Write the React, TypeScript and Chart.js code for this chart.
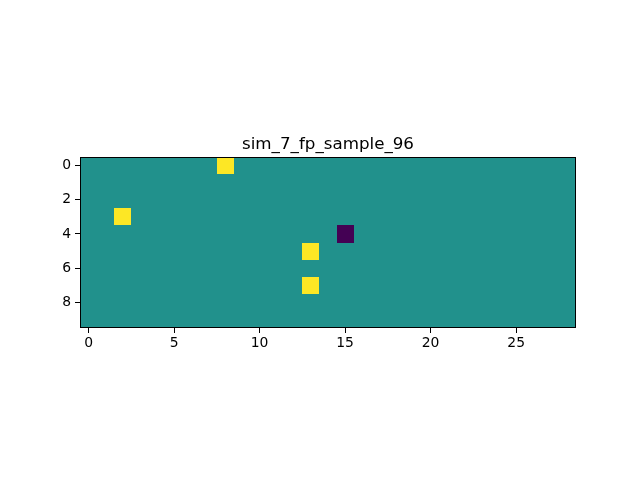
import { useEffect, useRef } from "react"
import { Chart, registerables } from "chart.js"

Chart.register(...registerables)

const title = "sim_7_fp_sample_96"

// image values: 0 = background, 1 = bright, -1 = dark
const grid: number[][] = [
  [0, 0, 0, 0, 0, 0, 0, 0, 1, 0, 0, 0, 0, 0, 0, 0, 0, 0, 0, 0, 0, 0, 0, 0, 0, 0, 0, 0, 0],
  [0, 0, 0, 0, 0, 0, 0, 0, 0, 0, 0, 0, 0, 0, 0, 0, 0, 0, 0, 0, 0, 0, 0, 0, 0, 0, 0, 0, 0],
  [0, 0, 0, 0, 0, 0, 0, 0, 0, 0, 0, 0, 0, 0, 0, 0, 0, 0, 0, 0, 0, 0, 0, 0, 0, 0, 0, 0, 0],
  [0, 0, 1, 0, 0, 0, 0, 0, 0, 0, 0, 0, 0, 0, 0, 0, 0, 0, 0, 0, 0, 0, 0, 0, 0, 0, 0, 0, 0],
  [0, 0, 0, 0, 0, 0, 0, 0, 0, 0, 0, 0, 0, 0, 0, -1, 0, 0, 0, 0, 0, 0, 0, 0, 0, 0, 0, 0, 0],
  [0, 0, 0, 0, 0, 0, 0, 0, 0, 0, 0, 0, 0, 1, 0, 0, 0, 0, 0, 0, 0, 0, 0, 0, 0, 0, 0, 0, 0],
  [0, 0, 0, 0, 0, 0, 0, 0, 0, 0, 0, 0, 0, 0, 0, 0, 0, 0, 0, 0, 0, 0, 0, 0, 0, 0, 0, 0, 0],
  [0, 0, 0, 0, 0, 0, 0, 0, 0, 0, 0, 0, 0, 1, 0, 0, 0, 0, 0, 0, 0, 0, 0, 0, 0, 0, 0, 0, 0],
  [0, 0, 0, 0, 0, 0, 0, 0, 0, 0, 0, 0, 0, 0, 0, 0, 0, 0, 0, 0, 0, 0, 0, 0, 0, 0, 0, 0, 0],
  [0, 0, 0, 0, 0, 0, 0, 0, 0, 0, 0, 0, 0, 0, 0, 0, 0, 0, 0, 0, 0, 0, 0, 0, 0, 0, 0, 0, 0],
]

const xTicks = [0, 5, 10, 15, 20, 25]
const yTicks = [0, 2, 4, 6, 8]

// viridis ends and middle
const colorFor = (v: number) => (v > 0 ? "#fde725" : v < 0 ? "#440154" : "#21918c")

const font = { family: "DejaVu Sans", size: 13.9 }

const heatmapPlugin = {
  id: "heatmap",
  beforeDatasetsDraw(chart: any) {
    const { ctx, scales, chartArea } = chart
    const x = scales.x
    const y = scales.y
    ctx.save()
    grid.forEach((row, r) => {
      row.forEach((v, c) => {
        const x0 = Math.round(x.getPixelForValue(c - 0.5))
        const x1 = Math.round(x.getPixelForValue(c + 0.5))
        const y0 = Math.round(y.getPixelForValue(r - 0.5))
        const y1 = Math.round(y.getPixelForValue(r + 0.5))
        ctx.fillStyle = colorFor(v)
        ctx.fillRect(x0, Math.min(y0, y1), x1 - x0, Math.abs(y1 - y0))
      })
    })
    // spines
    ctx.strokeStyle = "#000"
    ctx.lineWidth = 1
    ctx.strokeRect(
      Math.round(chartArea.left) + 0.5,
      Math.round(chartArea.top) + 0.5,
      Math.round(chartArea.right - chartArea.left) - 1,
      Math.round(chartArea.bottom - chartArea.top) - 1
    )
    ctx.restore()
  },
}

export default function App() {
  const chartRef = useRef<HTMLCanvasElement>(null)
  const chartInstance = useRef<Chart | null>(null)

  useEffect(() => {
    document.body.style.margin = "0"
    if (!chartRef.current) return
    if (chartInstance.current) chartInstance.current.destroy()
    const ctx = chartRef.current.getContext("2d")
    if (!ctx) return

    chartInstance.current = new Chart(ctx, {
      type: "scatter",
      data: { datasets: [{ data: [], pointRadius: 0 }] },
      options: {
        responsive: false,
        animation: false,
        layout: { padding: { left: 0, right: 64, top: 135, bottom: 0 } },
        plugins: {
          legend: { display: false },
          tooltip: { enabled: false },
          title: {
            display: true,
            fullSize: false,
            text: title,
            color: "#000",
            font: { family: "DejaVu Sans", size: 16.7, weight: "normal" },
            padding: { top: 0, bottom: 2 },
          },
        },
        scales: {
          x: {
            type: "linear",
            position: "bottom",
            min: -0.5,
            max: 28.5,
            afterBuildTicks: (s: any) => {
              s.ticks = xTicks.map((value) => ({ value }))
            },
            afterFit: (s: any) => {
              s.height = 152
            },
            ticks: { color: "#000", font, padding: 2, maxRotation: 0 },
            grid: { drawOnChartArea: false, drawTicks: true, tickLength: 5, color: "#000" },
            border: { display: false },
          },
          y: {
            type: "linear",
            reverse: true,
            min: -0.5,
            max: 9.5,
            afterBuildTicks: (s: any) => {
              s.ticks = yTicks.map((value) => ({ value }))
            },
            afterFit: (s: any) => {
              s.width = 80
            },
            ticks: { color: "#000", font, padding: 4 },
            grid: { drawOnChartArea: false, drawTicks: true, tickLength: 5, color: "#000" },
            border: { display: false },
          },
        },
      },
      plugins: [heatmapPlugin],
    })

    return () => {
      if (chartInstance.current) chartInstance.current.destroy()
    }
  }, [])

  return (
    <div style={{ width: 640, height: 480 }}>
      <canvas ref={chartRef} width={640} height={480} />
    </div>
  )
}
